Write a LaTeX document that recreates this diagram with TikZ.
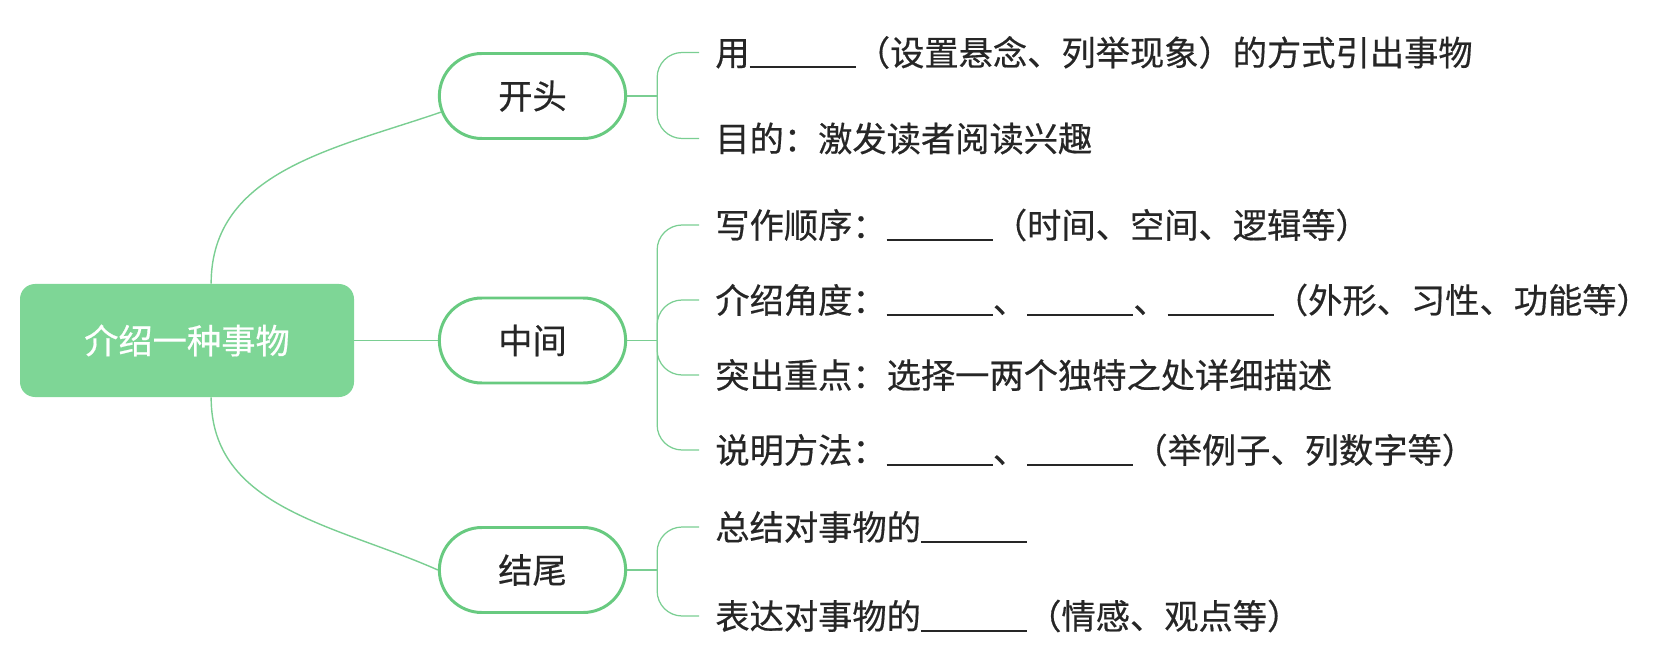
\documentclass[tikz,border=0pt]{standalone}
\usepackage{fontspec}
\setmainfont{Noto Sans CJK SC}[FakeBold=0.5]
\usetikzlibrary{shapes.misc}

\definecolor{rootgreen}{RGB}{126,214,150}
\definecolor{mapgreen}{RGB}{104,202,128}
\definecolor{twiggreen}{RGB}{122,206,146}
\definecolor{inkgray}{RGB}{38,38,38}

\newcommand{\blank}{\rule[-0.08em]{3.1em}{0.06em}}

\begin{document}
\begin{tikzpicture}[font=\fontsize{19.5}{24}\selectfont,
            root node/.style={rectangle,rounded corners=0.3cm,fill=rootgreen,text=white,
                minimum width=6.68cm,minimum height=2.26cm},
            part node/.style={rounded rectangle,draw=mapgreen,line width=1.7pt,text=inkgray,
                minimum width=3.96cm,minimum height=1.70cm},
            leaf/.style={anchor=west,inner xsep=0.32cm,inner ysep=0pt,text=inkgray},
            limb/.style={draw=twiggreen,line width=0.8pt},
            twig/.style={draw=twiggreen,line width=0.7pt,rounded corners=0.5cm}]

        \useasboundingbox (0,0) rectangle (33.38,13.10);

        % Define vertices
        \node[root node] (root) at (3.74,6.29) {介绍一种事物};
        \node[part node] (kaitou) at (10.65,11.18) {开头};
        \node[part node] (zhongjian) at (10.65,6.29) {中间};
        \node[part node] (jiewei) at (10.65,1.70) {结尾};

        \node[leaf] (k1) at (13.98,12.05) {用\blank（设置悬念、列举现象）的方式引出事物};
        \node[leaf] (k2) at (13.98,10.33) {目的：激发读者阅读兴趣};

        \node[leaf] (z1) at (13.98,8.60) {写作顺序：\blank（时间、空间、逻辑等）};
        \node[leaf] (z2) at (13.98,7.10) {介绍角度：\blank、\blank、\blank（外形、习性、功能等）};
        \node[leaf] (z3) at (13.98,5.60) {突出重点：选择一两个独特之处详细描述};
        \node[leaf] (z4) at (13.98,4.10) {说明方法：\blank、\blank（举例子、列数字等）};

        \node[leaf] (j1) at (13.98,2.56) {总结对事物的\blank};
        \node[leaf] (j2) at (13.98,0.78) {表达对事物的\blank（情感、观点等）};

        % Draw edges
        \draw[limb] (root.67) to[out=90,in=199] (kaitou.190);
        \draw[limb] (root.east) -- (zhongjian.west);
        \draw[limb] (root.-67) to[out=-90,in=156] (jiewei.west);

        \draw[limb] (kaitou.east) -- ++(0.6,0) coordinate (kb);
        \draw[twig] (kb) |- (k1.west);
        \draw[twig] (kb) |- (k2.west);

        \draw[limb] (zhongjian.east) -- ++(0.6,0) coordinate (zb);
        \draw[twig] (zb) |- (z1.west);
        \draw[twig] (zb) |- (z2.west);
        \draw[twig] (zb) |- (z3.west);
        \draw[twig] (zb) |- (z4.west);

        \draw[limb] (jiewei.east) -- ++(0.6,0) coordinate (jb);
        \draw[twig] (jb) |- (j1.west);
        \draw[twig] (jb) |- (j2.west);

\end{tikzpicture}
\end{document}
